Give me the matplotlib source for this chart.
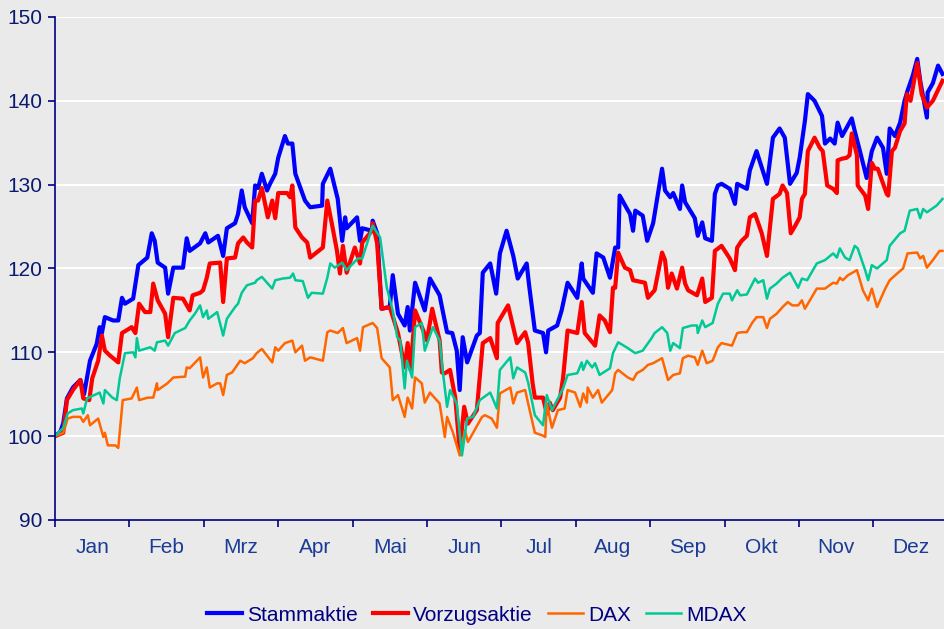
import matplotlib
matplotlib.use('Agg')
import matplotlib.pyplot as plt
from matplotlib.ticker import FixedLocator, NullFormatter

plt.rcParams['font.family'] = ['Liberation Sans', 'DejaVu Sans']

# x in months since start of year (0 = start of Jan)
stamm_x = [0.00, 0.07, 0.11, 0.16, 0.24, 0.34, 0.39, 0.44, 0.47, 0.56, 0.60, 0.63, 0.67, 0.78, 0.85, 0.90, 0.94,
           1.05, 1.12, 1.24, 1.30, 1.34, 1.38, 1.48, 1.52, 1.59, 1.72, 1.77, 1.81, 1.95, 2.02, 2.06, 2.19, 2.26,
           2.31, 2.42, 2.46, 2.51, 2.55, 2.65, 2.69, 2.73, 2.78, 2.85, 2.89, 2.96, 3.00, 3.09, 3.13, 3.19, 3.23,
           3.36, 3.43, 3.59, 3.60, 3.70, 3.80, 3.86, 3.90, 3.92, 4.06, 4.10, 4.13, 4.26, 4.27, 4.33, 4.39, 4.50,
           4.54, 4.61, 4.70, 4.74, 4.77, 4.84, 4.97, 5.04, 5.17, 5.21, 5.27, 5.34, 5.40, 5.44, 5.48, 5.54, 5.67,
           5.71, 5.75, 5.85, 5.93, 5.98, 6.07, 6.16, 6.22, 6.34, 6.37, 6.45, 6.56, 6.60, 6.63, 6.75, 6.81, 6.89,
           7.02, 7.08, 7.10, 7.23, 7.28, 7.37, 7.46, 7.53, 7.57, 7.59, 7.69, 7.73, 7.77, 7.80, 7.90, 7.96, 8.04,
           8.16, 8.20, 8.27, 8.31, 8.40, 8.43, 8.47, 8.60, 8.64, 8.70, 8.74, 8.83, 8.87, 8.91, 8.96, 9.07, 9.14,
           9.17, 9.30, 9.34, 9.43, 9.57, 9.65, 9.74, 9.81, 9.88, 9.97, 10.01, 10.08, 10.12, 10.21, 10.31, 10.35,
           10.42, 10.48, 10.52, 10.58, 10.71, 10.75, 10.82, 10.91, 10.98, 11.05, 11.13, 11.18, 11.22, 11.29,
           11.36, 11.42, 11.46, 11.53, 11.59, 11.63, 11.72, 11.73, 11.80, 11.87, 11.93]
stamm_y = [100.0, 100.5, 101.5, 104.5, 105.8, 106.7, 105.0, 107.5, 109.0, 111.0, 113.0, 112.3, 114.2, 113.8, 113.8,
           116.5, 115.8, 116.4, 120.4, 121.3, 124.2, 123.3, 120.7, 120.1, 117.0, 120.1, 120.1, 123.6, 122.1, 123.0,
           124.2, 123.1, 123.9, 121.5, 124.8, 125.4, 126.5, 129.3, 127.3, 125.4, 129.9, 129.6, 131.3, 129.3, 130.1,
           131.3, 133.2, 135.8, 134.9, 134.9, 131.3, 128.1, 127.3, 127.5, 130.1, 131.9, 128.3, 123.3, 126.1, 124.8,
           126.1, 123.3, 124.8, 124.5, 125.7, 124.2, 115.2, 115.4, 119.2, 114.6, 113.2, 115.4, 112.6, 118.3, 115.0,
           118.8, 116.8, 115.0, 112.4, 112.3, 110.2, 105.5, 111.8, 108.8, 112.0, 112.3, 119.5, 120.6, 117.0, 121.8,
           124.5, 121.5, 118.8, 120.6, 118.2, 112.6, 112.3, 110.0, 112.6, 113.2, 115.0, 118.3, 116.5, 120.6, 118.8,
           117.1, 121.8, 121.3, 118.9, 122.5, 122.5, 128.7, 127.1, 126.5, 124.5, 126.9, 126.3, 123.3, 125.4, 131.9,
           129.3, 128.5, 129.0, 127.1, 129.9, 127.9, 126.0, 123.9, 125.5, 123.6, 123.3, 128.9, 129.9, 130.1, 129.5,
           127.7, 130.1, 129.5, 131.7, 134.0, 130.1, 135.6, 136.7, 135.6, 130.1, 131.4, 133.2, 137.6, 140.8, 140.0,
           138.2, 134.9, 135.5, 134.9, 137.4, 135.8, 137.9, 136.4, 134.0, 130.8, 134.0, 135.6, 134.4, 131.3, 136.7,
           135.8, 137.4, 140.0, 141.2, 143.0, 145.0, 142.4, 138.0, 141.0, 142.1, 144.2, 143.2]

vorzug_x = [0.00, 0.11, 0.16, 0.24, 0.34, 0.38, 0.46, 0.50, 0.58, 0.63, 0.67, 0.74, 0.85, 0.90, 1.03, 1.08, 1.13,
            1.21, 1.28, 1.32, 1.38, 1.48, 1.52, 1.59, 1.72, 1.81, 1.85, 1.95, 1.99, 2.04, 2.08, 2.22, 2.26, 2.31,
            2.42, 2.46, 2.53, 2.58, 2.65, 2.69, 2.73, 2.78, 2.86, 2.92, 2.96, 3.00, 3.12, 3.16, 3.19, 3.23, 3.32,
            3.39, 3.43, 3.60, 3.66, 3.72, 3.79, 3.83, 3.87, 3.92, 4.03, 4.10, 4.13, 4.26, 4.27, 4.33, 4.39, 4.50,
            4.61, 4.70, 4.74, 4.78, 4.84, 4.95, 5.00, 5.07, 5.17, 5.20, 5.24, 5.31, 5.38, 5.44, 5.50, 5.55, 5.67,
            5.75, 5.85, 5.94, 5.95, 6.09, 6.16, 6.21, 6.32, 6.36, 6.42, 6.45, 6.56, 6.61, 6.65, 6.69, 6.79, 6.83,
            6.89, 7.02, 7.08, 7.12, 7.26, 7.32, 7.39, 7.46, 7.50, 7.53, 7.57, 7.66, 7.73, 7.77, 7.93, 7.97, 8.06,
            8.16, 8.20, 8.24, 8.29, 8.36, 8.43, 8.47, 8.51, 8.63, 8.70, 8.74, 8.83, 8.87, 8.96, 9.07, 9.14, 9.17,
            9.23, 9.30, 9.34, 9.41, 9.50, 9.57, 9.65, 9.74, 9.78, 9.84, 9.89, 9.95, 10.01, 10.04, 10.08, 10.12,
            10.21, 10.28, 10.32, 10.38, 10.46, 10.51, 10.52, 10.58, 10.64, 10.68, 10.71, 10.78, 10.79, 10.89,
            10.93, 10.98, 11.02, 11.06, 11.18, 11.20, 11.25, 11.29, 11.36, 11.42, 11.45, 11.50, 11.59, 11.65,
            11.72, 11.80, 11.93]
vorzug_y = [100.0, 100.4, 104.3, 105.5, 106.7, 104.5, 104.3, 106.9, 109.0, 112.0, 110.2, 109.6, 108.8, 112.3,
            113.0, 112.3, 115.8, 114.8, 114.8, 118.2, 116.2, 114.6, 111.8, 116.5, 116.4, 115.0, 116.8, 117.1, 117.4,
            118.9, 120.6, 120.7, 116.0, 121.2, 121.3, 123.0, 123.7, 123.1, 122.5, 128.1, 128.1, 129.6, 126.1, 128.1,
            126.0, 129.0, 129.0, 128.5, 129.9, 124.9, 123.7, 123.1, 121.3, 122.5, 128.1, 125.4, 122.1, 119.4, 122.7,
            119.5, 122.5, 120.6, 123.1, 124.5, 125.4, 123.0, 115.2, 115.4, 112.3, 108.2, 111.1, 107.9, 115.0, 112.6,
            111.4, 115.2, 111.4, 107.6, 107.5, 107.9, 104.6, 98.3, 103.5, 101.5, 103.1, 111.1, 111.7, 109.3, 113.5,
            115.6, 113.0, 111.1, 112.4, 111.1, 106.3, 104.6, 104.6, 102.7, 104.0, 103.1, 104.6, 107.0, 112.6, 112.3,
            116.0, 112.3, 110.8, 114.4, 113.8, 112.4, 117.7, 117.7, 121.9, 120.1, 119.8, 118.6, 118.3, 116.5, 117.4,
            121.9, 121.0, 117.7, 119.4, 117.6, 120.1, 118.2, 117.4, 116.8, 118.8, 116.0, 116.5, 122.1, 122.7, 121.2,
            119.8, 122.5, 123.3, 123.9, 126.1, 126.5, 124.2, 121.5, 128.3, 128.9, 129.9, 129.0, 124.2, 125.1, 126.1,
            128.3, 128.9, 134.0, 135.6, 134.4, 134.0, 129.9, 129.5, 129.0, 132.9, 133.1, 133.2, 133.5, 136.1, 133.5,
            129.9, 128.7, 127.1, 132.6, 131.9, 131.9, 128.9, 128.7, 134.0, 134.4, 136.4, 137.3, 140.8, 140.0, 144.5,
            140.8, 139.2, 140.0, 142.4]

dax_x = [0.00, 0.11, 0.17, 0.24, 0.34, 0.38, 0.44, 0.47, 0.58, 0.65, 0.67, 0.71, 0.81, 0.85, 0.91, 1.03, 1.10, 1.13,
         1.25, 1.32, 1.37, 1.38, 1.51, 1.59, 1.75, 1.77, 1.81, 1.95, 1.99, 2.04, 2.08, 2.18, 2.22, 2.26, 2.31, 2.38,
         2.49, 2.55, 2.66, 2.71, 2.78, 2.92, 2.96, 3.00, 3.09, 3.19, 3.23, 3.32, 3.36, 3.43, 3.60, 3.66, 3.70, 3.80,
         3.87, 3.92, 4.06, 4.10, 4.14, 4.27, 4.33, 4.39, 4.50, 4.54, 4.61, 4.70, 4.74, 4.80, 4.84, 4.93, 4.97, 5.04,
         5.17, 5.24, 5.27, 5.35, 5.44, 5.51, 5.55, 5.62, 5.74, 5.78, 5.87, 5.94, 5.98, 6.12, 6.16, 6.21, 6.32, 6.36,
         6.45, 6.55, 6.59, 6.61, 6.68, 6.76, 6.85, 6.89, 6.99, 7.06, 7.10, 7.15, 7.16, 7.23, 7.30, 7.35, 7.49, 7.53,
         7.57, 7.70, 7.77, 7.82, 7.90, 7.97, 8.04, 8.16, 8.24, 8.31, 8.40, 8.44, 8.51, 8.60, 8.64, 8.70, 8.76, 8.84,
         8.91, 8.96, 9.10, 9.17, 9.23, 9.30, 9.37, 9.43, 9.52, 9.57, 9.61, 9.70, 9.78, 9.85, 9.91, 9.99, 10.04,
         10.08, 10.24, 10.35, 10.46, 10.51, 10.55, 10.59, 10.66, 10.78, 10.82, 10.86, 10.93, 10.98, 11.05, 11.16,
         11.22, 11.32, 11.40, 11.46, 11.59, 11.63, 11.67, 11.72, 11.80, 11.89, 11.93]
dax_y = [100.0, 100.4, 102.1, 102.3, 102.3, 101.7, 102.5, 101.3, 102.1, 99.9, 100.4, 98.9, 98.9, 98.6, 104.3, 104.5,
         105.8, 104.3, 104.6, 104.6, 106.3, 105.5, 106.3, 107.0, 107.1, 108.2, 108.1, 109.4, 107.0, 108.2, 105.8,
         106.3, 106.3, 104.9, 107.3, 107.6, 109.0, 108.7, 109.3, 109.9, 110.4, 108.8, 110.6, 110.2, 111.1, 111.4,
         110.0, 110.8, 109.0, 109.4, 109.0, 112.4, 112.6, 112.3, 112.9, 111.1, 111.7, 110.2, 113.0, 113.5, 112.9,
         109.3, 108.2, 104.3, 104.9, 102.3, 104.6, 103.3, 107.0, 106.3, 104.0, 105.2, 103.9, 99.9, 102.3, 100.4,
         97.7, 100.7, 99.3, 100.4, 102.3, 102.5, 102.1, 101.0, 105.1, 105.8, 103.9, 105.2, 105.5, 103.9, 100.4,
         100.1, 99.9, 103.9, 101.0, 103.1, 103.3, 105.5, 105.2, 103.5, 105.1, 104.0, 105.8, 104.6, 105.5, 104.0,
         105.5, 107.5, 107.9, 107.0, 106.7, 107.5, 107.9, 108.5, 108.7, 109.3, 106.7, 107.3, 107.5, 109.3, 109.6,
         109.4, 108.5, 110.2, 108.7, 109.0, 110.6, 111.1, 110.8, 112.3, 112.4, 112.4, 113.5, 114.2, 114.2, 112.9,
         114.0, 114.6, 115.4, 116.0, 115.6, 115.6, 116.2, 115.2, 117.6, 117.6, 118.3, 118.2, 118.9, 118.6, 119.2,
         119.8, 118.6, 117.4, 116.2, 117.6, 115.4, 117.6, 118.6, 119.4, 120.0, 121.8, 121.9, 121.2, 121.5, 120.1,
         121.0, 122.1, 122.1]

mdax_x = [0.00, 0.11, 0.17, 0.24, 0.36, 0.38, 0.43, 0.60, 0.65, 0.67, 0.77, 0.83, 0.87, 0.94, 1.05, 1.08, 1.10,
          1.13, 1.28, 1.34, 1.37, 1.48, 1.52, 1.61, 1.75, 1.81, 1.88, 1.95, 1.99, 2.04, 2.06, 2.18, 2.26, 2.31,
          2.42, 2.46, 2.51, 2.58, 2.69, 2.71, 2.78, 2.85, 2.92, 2.96, 3.06, 3.16, 3.20, 3.23, 3.33, 3.40, 3.45,
          3.60, 3.66, 3.70, 3.76, 3.86, 3.92, 4.07, 4.13, 4.27, 4.37, 4.46, 4.54, 4.60, 4.64, 4.70, 4.73, 4.80,
          4.84, 4.93, 4.97, 5.08, 5.17, 5.21, 5.27, 5.31, 5.40, 5.47, 5.54, 5.62, 5.71, 5.85, 5.94, 5.98, 6.12,
          6.16, 6.21, 6.32, 6.36, 6.45, 6.56, 6.61, 6.65, 6.68, 6.75, 6.83, 6.89, 7.02, 7.08, 7.10, 7.15, 7.22,
          7.26, 7.32, 7.46, 7.50, 7.57, 7.70, 7.80, 7.90, 8.02, 8.06, 8.16, 8.23, 8.27, 8.31, 8.40, 8.44, 8.56,
          8.63, 8.64, 8.70, 8.74, 8.84, 8.91, 8.98, 9.07, 9.10, 9.17, 9.21, 9.30, 9.41, 9.45, 9.52, 9.57, 9.61,
          9.70, 9.78, 9.88, 9.99, 10.04, 10.11, 10.24, 10.35, 10.46, 10.51, 10.55, 10.62, 10.68, 10.75, 10.79,
          10.89, 10.93, 10.98, 11.05, 11.18, 11.22, 11.36, 11.42, 11.49, 11.59, 11.63, 11.67, 11.72, 11.85, 11.93]
mdax_y = [100.0, 101.0, 102.7, 103.1, 103.3, 102.7, 104.5, 105.2, 103.9, 105.5, 104.6, 104.3, 106.9, 109.9, 110.0,
          109.4, 111.7, 110.2, 110.6, 110.2, 111.2, 111.4, 110.8, 112.3, 112.9, 113.8, 114.6, 115.6, 114.2, 115.0,
          114.0, 114.8, 112.0, 114.0, 115.4, 115.8, 117.1, 118.0, 118.3, 118.6, 119.0, 118.3, 117.6, 118.6, 118.8,
          118.9, 119.4, 118.6, 118.5, 116.5, 117.1, 117.0, 118.9, 120.6, 120.1, 120.7, 119.8, 121.2, 121.2, 125.1,
          123.7, 117.7, 115.0, 111.8, 111.4, 105.7, 109.0, 107.0, 113.0, 113.5, 110.2, 113.0, 111.4, 107.9, 103.5,
          105.5, 103.9, 97.7, 102.1, 102.3, 104.3, 105.2, 103.3, 107.9, 109.4, 106.9, 108.2, 107.6, 106.4, 102.5,
          101.3, 104.9, 103.9, 103.1, 104.3, 105.7, 107.3, 107.5, 108.8, 107.9, 109.0, 108.2, 108.7, 107.3, 108.1,
          109.9, 111.2, 110.5, 109.9, 110.2, 111.7, 112.3, 113.0, 112.3, 110.2, 111.1, 110.5, 112.9, 113.2, 113.2,
          112.3, 113.8, 113.0, 113.5, 115.8, 117.0, 117.0, 116.2, 117.4, 116.8, 116.9, 118.8, 118.3, 118.6, 116.4,
          117.6, 118.2, 118.9, 119.5, 117.7, 118.8, 118.6, 120.6, 121.0, 121.8, 121.3, 122.4, 121.3, 121.0, 122.7,
          122.4, 119.8, 118.6, 120.4, 120.0, 121.0, 122.7, 124.2, 124.5, 126.9, 127.1, 126.0, 127.1, 126.7, 127.5,
          128.3]

months = ['Jan', 'Feb', 'Mrz', 'Apr', 'Mai', 'Jun', 'Jul', 'Aug', 'Sep', 'Okt', 'Nov', 'Dez']

bg = '#eaeaea'
navy = '#000080'

fig = plt.figure(figsize=(9.44, 6.29), dpi=100, facecolor=bg)
ax = fig.add_axes([0.0583, 0.1733, 0.9417, 0.7997], facecolor=bg)

ax.plot(stamm_x, stamm_y, color='#0000ff', lw=3.0, label='Stammaktie', solid_joinstyle='round')
ax.plot(vorzug_x, vorzug_y, color='#ff0000', lw=3.0, label='Vorzugsaktie', solid_joinstyle='round')
ax.plot(dax_x, dax_y, color='#ff6600', lw=1.8, label='DAX')
ax.plot(mdax_x, mdax_y, color='#00c896', lw=1.8, label='MDAX')

ax.set_xlim(0, 11.95)
ax.set_ylim(90, 150)
ax.set_yticks(range(90, 151, 10))
for v in range(100, 151, 10):
    ax.axhline(v, color='white', lw=1.5, zorder=0)

ax.xaxis.set_major_locator(FixedLocator(range(0, 12)))
ax.xaxis.set_major_formatter(NullFormatter())
ax.xaxis.set_minor_locator(FixedLocator([i + 0.5 for i in range(12)]))
ax.set_xticklabels(months, minor=True)
ax.tick_params(axis='x', which='major', direction='out', length=5, width=1.2, color=navy)
ax.tick_params(axis='x', which='minor', length=0, pad=13, labelsize=15, labelcolor='#1a3c96')
ax.tick_params(axis='y', direction='out', length=5, width=1.2, color=navy, pad=4,
               labelsize=15, labelcolor='#0a1a6e')

for s in ['top', 'right']:
    ax.spines[s].set_visible(False)
for s in ['left', 'bottom']:
    ax.spines[s].set_color(navy)
    ax.spines[s].set_linewidth(1.2)

leg = fig.legend(loc='center', bbox_to_anchor=(0.505, 0.022), ncol=4, frameon=False, fontsize=15,
                 handlelength=1.7, handletextpad=0.25, columnspacing=0.7, borderpad=0)
for t in leg.get_texts():
    t.set_color(navy)

fig.savefig('out.png', dpi=100, facecolor=bg)
